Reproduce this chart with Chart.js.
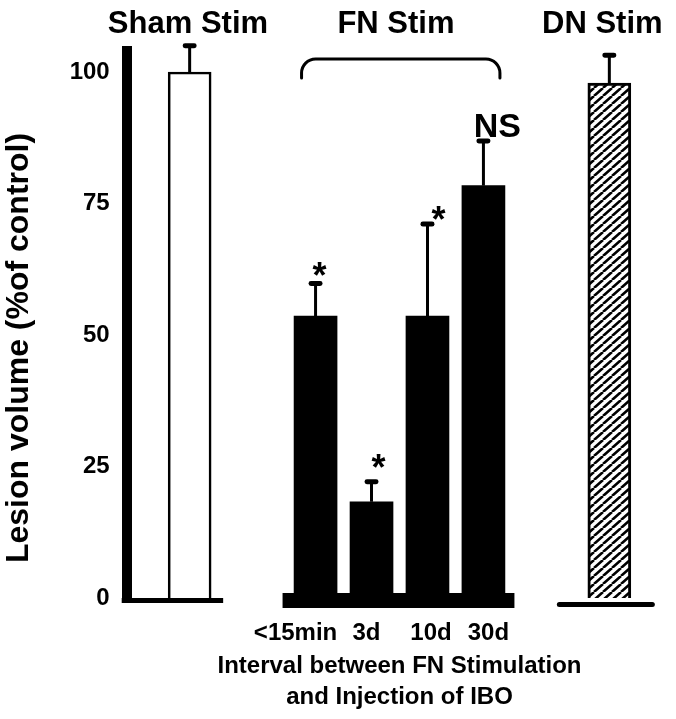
<!DOCTYPE html>
<html>
<head>
<meta charset="utf-8">
<script src="https://cdn.jsdelivr.net/npm/chart.js@4/dist/chart.umd.min.js"></script>
<style>
  html, body { margin: 0; padding: 0; background: #ffffff; }
  #c { display: block; }
</style>
</head>
<body>
<canvas id="c" width="676" height="719"></canvas>
<script>
// ---- data ----
const categories   = ['Sham Stim', '<15min', '3d', '10d', '30d', 'DN Stim'];
const groups       = ['Sham Stim', 'FN Stim', 'FN Stim', 'FN Stim', 'FN Stim', 'DN Stim'];
const lesionVolume = [100, 53.6, 18.3, 53.6, 78.4, 97.9];
const sem          = [5.0, 6.2, 3.8, 17.5, 8.5, 5.3];
const significance = ['', '*', '*', '*', 'NS', ''];
const yTicks       = [0, 25, 50, 75, 100];
const yTitle       = 'Lesion volume (%of control)';
const xTitle       = ['Interval between FN Stimulation', 'and Injection of IBO'];

// ---- layout (slot placement on the category axis) ----
const layoutSlots = { count: 38, index: [4, 13, 17, 21, 25, 34] };
const FONT = "'Liberation Sans', Arial, Helvetica, sans-serif";

const canvas = document.getElementById('c');
const mainCtx = canvas.getContext('2d');

function hatchPattern() {
  const t = document.createElement('canvas');
  t.width = 9; t.height = 8;
  const g = t.getContext('2d');
  g.fillStyle = '#ffffff';
  g.fillRect(0, 0, 9, 8);
  g.strokeStyle = '#000000';
  g.lineWidth = 2.6;
  g.beginPath();
  [-9, 0, 9].forEach(o => { g.moveTo(o, 8); g.lineTo(o + 9, 0); });
  g.stroke();
  return mainCtx.createPattern(t, 'repeat');
}

const groupStyle = {
  'Sham Stim': { bg: '#ffffff', bw: 2.6 },
  'FN Stim':   { bg: '#000000', bw: 0 },
  'DN Stim':   { bg: hatchPattern(), bw: 3 }
};

const slotLabels = Array.from({ length: layoutSlots.count }, () => '');
const slotValues = Array(layoutSlots.count).fill(null);
const slotBg = Array(layoutSlots.count).fill('#000000');
const slotBw = Array(layoutSlots.count).fill(0);
layoutSlots.index.forEach((s, i) => {
  slotLabels[s] = categories[i];
  slotValues[s] = lesionVolume[i];
  slotBg[s] = groupStyle[groups[i]].bg;
  slotBw[s] = groupStyle[groups[i]].bw;
});

function roundRectPath(ctx, x, y, w, h, r) {
  ctx.beginPath();
  ctx.moveTo(x + r, y);
  ctx.lineTo(x + w - r, y);
  ctx.arcTo(x + w, y, x + w, y + r, r);
  ctx.lineTo(x + w, y + h - r);
  ctx.arcTo(x + w, y + h, x + w - r, y + h, r);
  ctx.lineTo(x + r, y + h);
  ctx.arcTo(x, y + h, x, y + h - r, r);
  ctx.lineTo(x, y + r);
  ctx.arcTo(x, y, x + r, y, r);
  ctx.closePath();
}

const decor = {
  id: 'decor',
  afterDatasetsDraw(chart, args, opts) {
    const ctx = chart.ctx;
    const area = chart.chartArea;
    const y = chart.scales.y;
    const meta = chart.getDatasetMeta(0);
    const bars = layoutSlots.index.map(s => meta.data[s]);
    const y0 = y.getPixelForValue(0);
    const fn = bars.filter((b, i) => groups[i] === 'FN Stim');
    const fnIdx = groups.map((g, i) => g === 'FN Stim' ? i : -1).filter(i => i >= 0);
    const sham = bars[groups.indexOf('Sham Stim')];
    const dn = bars[groups.indexOf('DN Stim')];
    const fnCenter = (fn[0].x + fn[fn.length - 1].x) / 2;

    ctx.save();
    ctx.fillStyle = '#000';
    ctx.strokeStyle = '#000';

    // baselines
    ctx.fillRect(area.left - 5, y0, sham.x + 33.5 - (area.left - 5), 5);
    ctx.fillRect(fn[0].x - 33, y0 - 5, fn[fn.length - 1].x + 31 - (fn[0].x - 33), 15);
    ctx.lineCap = 'round';
    ctx.lineWidth = 5;
    ctx.beginPath();
    ctx.moveTo(dn.x - 50, y0 + 6.5);
    ctx.lineTo(dn.x + 43, y0 + 6.5);
    ctx.stroke();

    // error bars + significance marks
    bars.forEach((b, i) => {
      const top = y.getPixelForValue(lesionVolume[i]);
      const cap = y.getPixelForValue(lesionVolume[i] + sem[i]);
      ctx.lineCap = 'butt';
      ctx.lineWidth = 3;
      ctx.beginPath();
      ctx.moveTo(b.x, top);
      ctx.lineTo(b.x, cap);
      ctx.stroke();
      roundRectPath(ctx, b.x - 7, cap - 2.5, 14, 5, 2.4);
      ctx.fill();

      const m = significance[i];
      if (m) {
        const star = m === '*';
        const fs = star ? 36 : 34;
        ctx.font = `bold ${fs}px ${FONT}`;
        ctx.textAlign = 'center';
        ctx.textBaseline = 'alphabetic';
        const cx = b.x + opts.markDx[i];
        const cy = cap + opts.markDy[i];
        ctx.fillText(m, cx, cy + (star ? 0.56 : 0.358) * fs);
      }
    });

    // group headers
    ctx.font = `bold 31px ${FONT}`;
    ctx.textAlign = 'center';
    ctx.textBaseline = 'alphabetic';
    ctx.fillText('Sham Stim', sham.x - 1.7, 33);
    ctx.fillText('FN Stim', fnCenter - 3.5, 33);
    ctx.fillText('DN Stim', dn.x - 7, 33);

    // bracket over FN group
    const bx1 = fn[0].x - 14, bx2 = fn[fn.length - 1].x + 16.5;
    const bTop = 59, bBot = 78, r = 14;
    ctx.lineWidth = 3;
    ctx.lineCap = 'round';
    ctx.beginPath();
    ctx.moveTo(bx1, bBot);
    ctx.arcTo(bx1, bTop, bx1 + r, bTop, r);
    ctx.lineTo(bx2 - r, bTop);
    ctx.arcTo(bx2, bTop, bx2, bBot, r);
    ctx.lineTo(bx2, bBot);
    ctx.stroke();

    // x category labels under FN bars
    ctx.font = `bold 24px ${FONT}`;
    fn.forEach((b, k) => {
      ctx.fillText(categories[fnIdx[k]], b.x + opts.labelDx[k], 640);
    });

    // x title
    ctx.fillText(xTitle[0], fnCenter, 673);
    ctx.fillText(xTitle[1], fnCenter, 704);

    // y title
    ctx.save();
    ctx.translate(28, 348);
    ctx.rotate(-Math.PI / 2);
    ctx.font = `bold 32px ${FONT}`;
    ctx.textAlign = 'center';
    ctx.textBaseline = 'alphabetic';
    ctx.fillText(yTitle, 0, 0);
    ctx.restore();

    ctx.restore();
  }
};

new Chart(canvas, {
  type: 'bar',
  data: {
    labels: slotLabels,
    datasets: [{
      data: slotValues,
      backgroundColor: slotBg,
      borderColor: '#000000',
      borderWidth: slotBw,
      barThickness: 43
    }]
  },
  options: {
    responsive: false,
    maintainAspectRatio: false,
    devicePixelRatio: 1,
    animation: false,
    layout: { padding: { top: 51, bottom: 121, left: 0, right: 17.7 } },
    plugins: {
      legend: { display: false },
      tooltip: { enabled: false },
      decor: {
        markDx: [0, 4, 7, 11, 14, 0],
        markDy: [0, -15.5, -22, -12, -16, 0],
        labelDx: [-20, -5, 3.5, 5]
      }
    },
    scales: {
      x: {
        type: 'category',
        display: false,
        offset: true
      },
      y: {
        min: 0,
        max: 104,
        afterBuildTicks: s => { s.ticks = yTicks.map(v => ({ value: v })); },
        afterFit: s => { s.width = 126.7; },
        grid: { display: false, drawTicks: false },
        border: { display: true, color: '#000000', width: 10 },
        ticks: {
          color: '#000000',
          padding: 17,
          font: { family: FONT, size: 24, weight: 'bold' }
        },
        title: { display: false }
      }
    }
  },
  plugins: [decor]
});
</script>
</body>
</html>
